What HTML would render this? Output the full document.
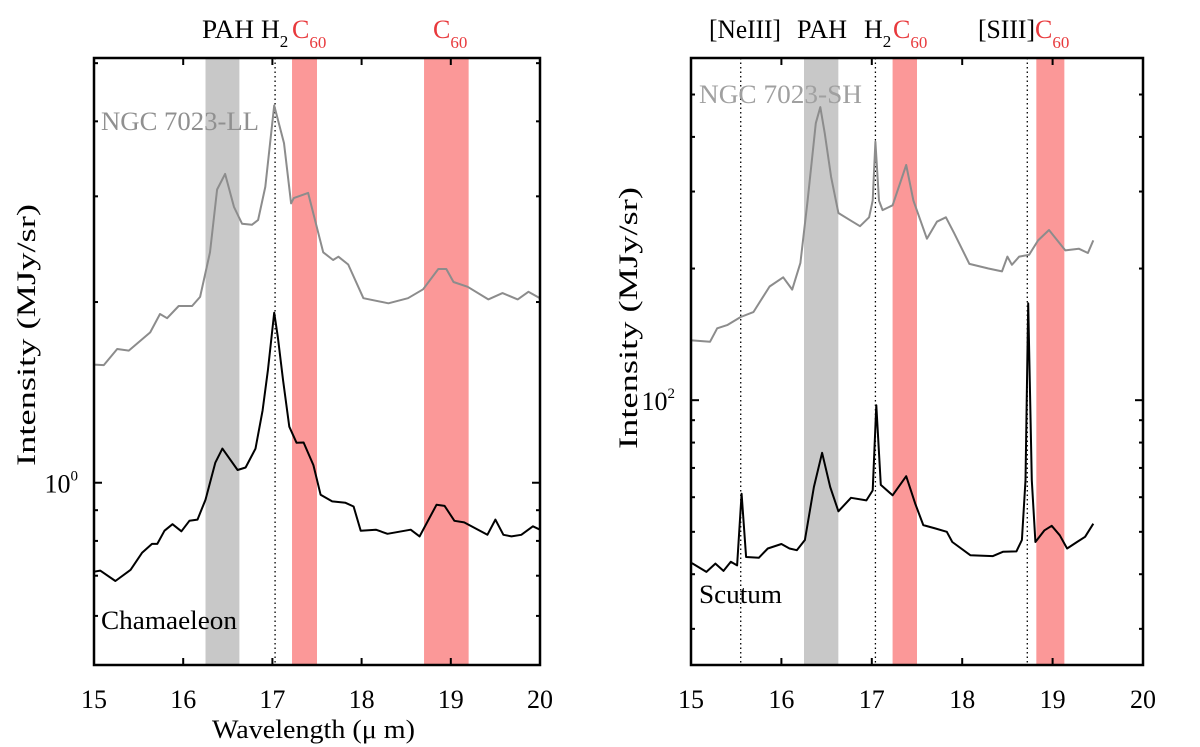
<!DOCTYPE html>
<html><head><meta charset="utf-8">
<style>
html,body{margin:0;padding:0;background:#fff;}
svg{display:block;font-family:"Liberation Serif",serif;}
</style></head>
<body>
<svg id="fig" width="1200" height="747" viewBox="0 0 1200 747" xmlns="http://www.w3.org/2000/svg"></svg>
<script>
// ---- Left panel data ----
const leftGrayWl = [15.0,15.11,15.26,15.39,15.63,15.74,15.82,15.95,16.10,16.19,16.30,16.38,16.47,16.57,16.66,16.77,16.84,16.92,17.02,17.13,17.21,17.24,17.40,17.57,17.68,17.74,17.85,18.02,18.30,18.52,18.69,18.86,18.95,19.03,19.19,19.42,19.58,19.75,19.87,20.0];
const leftGrayVal = [1.573,1.57,1.67,1.66,1.78,1.91,1.88,1.97,1.97,2.04,2.42,3.08,3.27,2.88,2.70,2.69,2.74,3.11,4.25,3.68,2.92,2.98,3.04,2.42,2.35,2.38,2.31,2.03,1.99,2.03,2.10,2.27,2.27,2.16,2.12,2.02,2.07,2.02,2.08,2.03];
const leftBlackWl = [15.0,15.07,15.24,15.41,15.54,15.65,15.71,15.79,15.88,15.98,16.07,16.16,16.25,16.36,16.44,16.61,16.70,16.81,16.89,16.95,17.02,17.06,17.12,17.19,17.27,17.35,17.46,17.54,17.67,17.82,17.91,17.99,18.16,18.29,18.55,18.65,18.84,18.93,19.04,19.15,19.41,19.50,19.59,19.68,19.79,19.92,20.0];
const leftBlackVal = [0.711,0.714,0.686,0.716,0.765,0.791,0.791,0.832,0.853,0.830,0.864,0.868,0.937,1.08,1.14,1.05,1.06,1.14,1.32,1.54,1.92,1.75,1.48,1.24,1.166,1.167,1.07,0.955,0.931,0.926,0.913,0.832,0.835,0.822,0.835,0.814,0.919,0.915,0.864,0.859,0.819,0.868,0.819,0.814,0.819,0.846,0.835];
// ---- Right panel data ----
const rightGrayWl = [15.01,15.21,15.29,15.40,15.55,15.69,15.87,16.02,16.12,16.21,16.29,16.38,16.43,16.48,16.55,16.63,16.76,16.87,16.97,17.01,17.04,17.08,17.12,17.23,17.38,17.46,17.61,17.72,17.82,17.91,18.08,18.29,18.44,18.50,18.55,18.63,18.74,18.84,18.96,19.14,19.29,19.39,19.45];
const rightGrayVal = [137,136,146,148.5,155,159,182,191,179,206,286,430,468,407,324,268,258,250,262,286,390,286,272,279,345,286,234,256,262,241,205,200,197,213,204,213,215,232,245,220,222,217,232];
const rightBlackWl = [15.01,15.17,15.27,15.36,15.44,15.51,15.56,15.61,15.75,15.85,16.00,16.09,16.17,16.26,16.36,16.45,16.54,16.63,16.77,16.94,17.01,17.05,17.10,17.23,17.38,17.48,17.57,17.70,17.83,17.89,18.09,18.34,18.45,18.60,18.66,18.70,18.73,18.77,18.81,18.91,18.99,19.08,19.16,19.27,19.36,19.45];
const rightBlackVal = [42.4,40.5,42.3,40.7,42.7,41.9,61.1,43.8,43.6,45.8,46.9,45.8,45.4,47.9,63.3,75.8,63.3,55.7,59.8,59.0,62.2,97.4,64.0,60.6,67.0,58.0,51.8,50.9,50.0,47.4,44.2,44.0,45.0,45.1,47.9,65.6,166.5,65.6,47.4,50.4,51.6,49.1,45.8,47.4,48.7,52.2];
const xTicks = [15,16,17,18,19,20];
const leftBands = [[16.25,16.63,'#c8c8c8'],[17.22,17.5,'#fb9898'],[18.7,19.2,'#fb9898']];
const rightBands = [[16.25,16.63,'#c8c8c8'],[17.23,17.5,'#fb9898'],[18.82,19.13,'#fb9898']];
const leftLines = [17.03];
const rightLines = [15.55,17.04,18.72];
const leftMinor = [0.6,0.7,0.8,0.9,2,3,4,5];
const rightMinor = [30,40,50,60,70,80,90,200,300,400,500];

const NS='http://www.w3.org/2000/svg';
const svg=document.getElementById('fig');
function mk(tag,attrs,parent){const e=document.createElementNS(NS,tag);for(const k in attrs)e.setAttribute(k,attrs[k]);(parent||svg).appendChild(e);return e;}

function panel(cfg){
  const g=mk('g',{});
  
  
  const X=v=>cfg.x0+(v-15)/5*(cfg.x1-cfg.x0);
  const Y=v=>cfg.y1-(Math.log10(v)-Math.log10(cfg.ymin))/(Math.log10(cfg.ymax)-Math.log10(cfg.ymin))*(cfg.y1-cfg.y0);
  cfg.bands.forEach(b=>{
    const r=mk('rect',{x:X(b[0]),y:cfg.y0,width:X(b[1])-X(b[0]),height:cfg.y1-cfg.y0,fill:b[2]},g);
    
    
  });
  cfg.lines.forEach(l=>{
    const ln=mk('line',{x1:X(l),x2:X(l),y1:cfg.y0,y2:cfg.y1,stroke:'#000','stroke-width':1.3,'stroke-dasharray':'1.5,3'},g);
    
    
  });
  function series(wl,val,color,name){
    const d=wl.map((w,i)=>(i?'L':'M')+X(w).toFixed(1)+','+Y(val[i]).toFixed(1)).join(' ');
    const p=mk('path',{d:d,fill:'none',stroke:color,'stroke-width':2,'stroke-linejoin':'round'},g);
    
    
  }
  series(cfg.gw,cfg.gv,'#8c8c8c',cfg.gname);
  series(cfg.bw,cfg.bv,'#000',cfg.bname);
  xTicks.forEach(t=>{
    mk('line',{x1:X(t),x2:X(t),y1:cfg.y1,y2:cfg.y1-7,stroke:'#000','stroke-width':2},g);
    mk('line',{x1:X(t),x2:X(t),y1:cfg.y0,y2:cfg.y0+7,stroke:'#000','stroke-width':2},g);
    const tx=mk('text',{x:X(t),y:708,'font-size':26,'text-anchor':'middle'},g);
    tx.textContent=t;
    
    
  });
  cfg.minor.forEach(v=>{
    const y=Y(v);
    mk('line',{x1:cfg.x0,x2:cfg.x0+4,y1:y,y2:y,stroke:'#000','stroke-width':2},g);
    mk('line',{x1:cfg.x1,x2:cfg.x1-4,y1:y,y2:y,stroke:'#000','stroke-width':2},g);
  });
  const ym=Y(cfg.major);
  mk('line',{x1:cfg.x0,x2:cfg.x0+8,y1:ym,y2:ym,stroke:'#000','stroke-width':2},g);
  mk('line',{x1:cfg.x1,x2:cfg.x1-8,y1:ym,y2:ym,stroke:'#000','stroke-width':2},g);
  const yl=mk('text',{x:cfg.x0-16,y:ym+10,'font-size':26,'text-anchor':'end'},g);
  yl.innerHTML='10<tspan dy="-12" font-size="15">'+cfg.exp+'</tspan>';
  
  
  const fr=mk('rect',{x:cfg.x0,y:cfg.y0,width:cfg.x1-cfg.x0,height:cfg.y1-cfg.y0,fill:'none',stroke:'#000','stroke-width':2.5},g);
  
  
  const yt=mk('text',{x:0,y:0,'font-size':26,'text-anchor':'middle',textLength:262,lengthAdjust:'spacingAndGlyphs',transform:'translate('+cfg.ytx+','+cfg.yty+') rotate(-90)'},g);
  yt.textContent='Intensity (MJy/sr)';
  
  
  return {X,Y,g};
}

panel({name:'left-panel',x0:94,x1:540,y0:58,y1:665,ymin:0.497,ymax:5.1,bands:leftBands,lines:leftLines,
  gw:leftGrayWl,gv:leftGrayVal,bw:leftBlackWl,bv:leftBlackVal,gname:'ngc7023-ll-spectrum',bname:'chamaeleon-spectrum',
  minor:leftMinor,major:1,exp:'0',ytx:35,yty:335});
panel({name:'right-panel',x0:691,x1:1143,y0:58,y1:665,ymin:24.8,ymax:606,bands:rightBands,lines:rightLines,
  gw:rightGrayWl,gv:rightGrayVal,bw:rightBlackWl,bv:rightBlackVal,gname:'ngc7023-sh-spectrum',bname:'scutum-spectrum',
  minor:rightMinor,major:100,exp:'2',ytx:637,yty:318});

function label(x,y,html,color,name,len){
  const attrs={x:x,y:y,'font-size':26,fill:color};
  if(len){attrs.textLength=len;attrs.lengthAdjust='spacingAndGlyphs';}
  const t=mk('text',attrs);
  t.innerHTML=html;
  
  
}
const sub2='H<tspan dy="9" font-size="17">2</tspan>';
const c60='<tspan fill="#e8393c">C<tspan dy="10" font-size="17">60</tspan></tspan>';
label(202,38,'PAH','#000','pah-label',52);
label(261,38,sub2,'#000','h2-label');
label(292,38,c60,'#000','c60-label');
label(433,38,c60,'#000','c60-label-2');
label(709,38,'[NeIII]','#000','neiii-label',72);
label(797,38,'PAH','#000','pah-label-right',50);
label(864,38,sub2,'#000','h2-label-right');
label(893,38,c60,'#000','c60-label-right');
label(978,38,'[SIII]','#000','siii-label',57);
label(1035,38,c60,'#000','c60-label-right-2');
label(101,130,'NGC 7023-LL','#909090','ngc7023-ll-label',158);
label(699,103,'NGC 7023-SH','#a0a0a0','ngc7023-sh-label',163);
label(101,629,'Chamaeleon','#000','chamaeleon-label',136);
label(699,603,'Scutum','#000','scutum-label',83);
label(212,738,'Wavelength (μ m)','#000','x-axis-title',203);
</script>
</body></html>
